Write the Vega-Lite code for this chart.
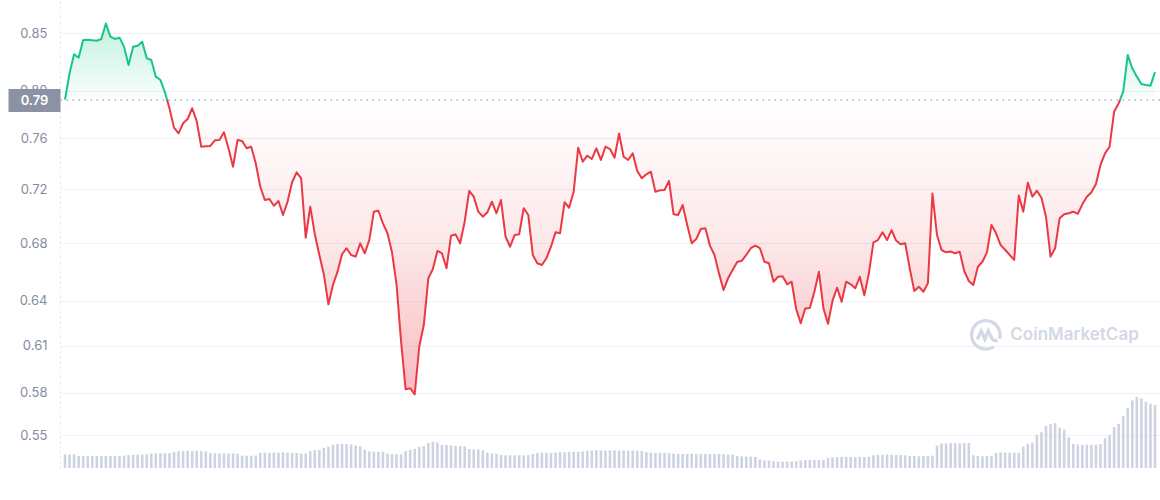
{
 "$schema": "https://vega.github.io/schema/vega-lite/v6.json",
 "width": 1100,
 "height": 468,
 "autosize": {"type": "none"},
 "padding": {"left": 60, "top": 0, "right": 0, "bottom": 32},
 "background": "#ffffff",
 "config": {"view": {"stroke": null}, "font": "Inter"},
 "data": {"values": [
{"t":"2022-02-14T21:00","p":0.7910,"v":1.05},
{"t":"2022-02-15T00:00","p":0.8140,"v":1.05},{"t":"2022-02-15T03:00","p":0.8309,"v":1.04},{"t":"2022-02-15T06:00","p":0.8278,"v":0.93},{"t":"2022-02-15T09:00","p":0.8439,"v":0.92},{"t":"2022-02-15T12:00","p":0.8441,"v":0.92},{"t":"2022-02-15T15:00","p":0.8436,"v":0.92},{"t":"2022-02-15T18:00","p":0.8432,"v":0.92},{"t":"2022-02-15T21:00","p":0.8448,"v":0.92},
{"t":"2022-02-16T00:00","p":0.8590,"v":0.93},{"t":"2022-02-16T03:00","p":0.8469,"v":0.92},{"t":"2022-02-16T06:00","p":0.8448,"v":0.92},{"t":"2022-02-16T09:00","p":0.8460,"v":0.93},{"t":"2022-02-16T12:00","p":0.8378,"v":0.95},{"t":"2022-02-16T15:00","p":0.8213,"v":1.00},{"t":"2022-02-16T18:00","p":0.8378,"v":1.02},{"t":"2022-02-16T21:00","p":0.8387,"v":1.03},
{"t":"2022-02-17T00:00","p":0.8423,"v":1.04},{"t":"2022-02-17T03:00","p":0.8273,"v":1.06},{"t":"2022-02-17T06:00","p":0.8258,"v":1.10},{"t":"2022-02-17T09:00","p":0.8110,"v":1.13},{"t":"2022-02-17T12:00","p":0.8081,"v":1.14},{"t":"2022-02-17T15:00","p":0.7974,"v":1.13},{"t":"2022-02-17T18:00","p":0.7837,"v":1.14},{"t":"2022-02-17T21:00","p":0.7674,"v":1.22},
{"t":"2022-02-18T00:00","p":0.7627,"v":1.28},{"t":"2022-02-18T03:00","p":0.7710,"v":1.30},{"t":"2022-02-18T06:00","p":0.7746,"v":1.32},{"t":"2022-02-18T09:00","p":0.7837,"v":1.31},{"t":"2022-02-18T12:00","p":0.7729,"v":1.33},{"t":"2022-02-18T15:00","p":0.7517,"v":1.30},{"t":"2022-02-18T18:00","p":0.7520,"v":1.28},{"t":"2022-02-18T21:00","p":0.7523,"v":1.15},
{"t":"2022-02-19T00:00","p":0.7569,"v":1.13},{"t":"2022-02-19T03:00","p":0.7572,"v":1.13},{"t":"2022-02-19T06:00","p":0.7635,"v":1.14},{"t":"2022-02-19T09:00","p":0.7504,"v":1.12},{"t":"2022-02-19T12:00","p":0.7356,"v":1.13},{"t":"2022-02-19T15:00","p":0.7572,"v":1.10},{"t":"2022-02-19T18:00","p":0.7564,"v":0.96},{"t":"2022-02-19T21:00","p":0.7504,"v":0.95},
{"t":"2022-02-20T00:00","p":0.7517,"v":0.94},{"t":"2022-02-20T03:00","p":0.7383,"v":0.96},{"t":"2022-02-20T06:00","p":0.7198,"v":1.16},{"t":"2022-02-20T09:00","p":0.7095,"v":1.18},{"t":"2022-02-20T12:00","p":0.7103,"v":1.17},{"t":"2022-02-20T15:00","p":0.7051,"v":1.18},{"t":"2022-02-20T18:00","p":0.7088,"v":1.17},{"t":"2022-02-20T21:00","p":0.6981,"v":1.22},
{"t":"2022-02-21T00:00","p":0.7082,"v":1.18},{"t":"2022-02-21T03:00","p":0.7233,"v":1.16},{"t":"2022-02-21T06:00","p":0.7311,"v":1.15},{"t":"2022-02-21T09:00","p":0.7264,"v":1.10},{"t":"2022-02-21T12:00","p":0.6811,"v":1.12},{"t":"2022-02-21T15:00","p":0.7044,"v":1.30},{"t":"2022-02-21T18:00","p":0.6839,"v":1.37},{"t":"2022-02-21T21:00","p":0.6685,"v":1.40},
{"t":"2022-02-22T00:00","p":0.6546,"v":1.55},{"t":"2022-02-22T03:00","p":0.6337,"v":1.64},{"t":"2022-02-22T06:00","p":0.6471,"v":1.80},{"t":"2022-02-22T09:00","p":0.6565,"v":1.85},{"t":"2022-02-22T12:00","p":0.6690,"v":1.86},{"t":"2022-02-22T15:00","p":0.6734,"v":1.84},{"t":"2022-02-22T18:00","p":0.6685,"v":1.80},{"t":"2022-02-22T21:00","p":0.6673,"v":1.72},
{"t":"2022-02-23T00:00","p":0.6770,"v":1.66},{"t":"2022-02-23T03:00","p":0.6697,"v":1.40},{"t":"2022-02-23T06:00","p":0.6794,"v":1.28},{"t":"2022-02-23T09:00","p":0.7006,"v":1.26},{"t":"2022-02-23T12:00","p":0.7013,"v":1.25},{"t":"2022-02-23T15:00","p":0.6918,"v":1.24},{"t":"2022-02-23T18:00","p":0.6844,"v":1.10},{"t":"2022-02-23T21:00","p":0.6704,"v":1.06},
{"t":"2022-02-24T00:00","p":0.6476,"v":1.05},{"t":"2022-02-24T03:00","p":0.6085,"v":1.06},{"t":"2022-02-24T06:00","p":0.5779,"v":1.30},{"t":"2022-02-24T09:00","p":0.5786,"v":1.40},{"t":"2022-02-24T12:00","p":0.5748,"v":1.46},{"t":"2022-02-24T15:00","p":0.6052,"v":1.62},{"t":"2022-02-24T18:00","p":0.6196,"v":1.70},{"t":"2022-02-24T21:00","p":0.6518,"v":1.92},
{"t":"2022-02-25T00:00","p":0.6584,"v":2.02},{"t":"2022-02-25T03:00","p":0.6714,"v":1.98},{"t":"2022-02-25T06:00","p":0.6697,"v":1.78},{"t":"2022-02-25T09:00","p":0.6589,"v":1.77},{"t":"2022-02-25T12:00","p":0.6826,"v":1.74},{"t":"2022-02-25T15:00","p":0.6836,"v":1.70},{"t":"2022-02-25T18:00","p":0.6770,"v":1.69},{"t":"2022-02-25T21:00","p":0.6930,"v":1.66},
{"t":"2022-02-26T00:00","p":0.7165,"v":1.46},{"t":"2022-02-26T03:00","p":0.7121,"v":1.44},{"t":"2022-02-26T06:00","p":0.7006,"v":1.42},{"t":"2022-02-26T09:00","p":0.6968,"v":1.36},{"t":"2022-02-26T12:00","p":0.7001,"v":1.18},{"t":"2022-02-26T15:00","p":0.7082,"v":1.13},{"t":"2022-02-26T18:00","p":0.6994,"v":1.10},{"t":"2022-02-26T21:00","p":0.7095,"v":0.99},
{"t":"2022-02-27T00:00","p":0.6819,"v":0.98},{"t":"2022-02-27T03:00","p":0.6745,"v":0.97},{"t":"2022-02-27T06:00","p":0.6831,"v":0.97},{"t":"2022-02-27T09:00","p":0.6836,"v":0.98},{"t":"2022-02-27T12:00","p":0.7032,"v":0.97},{"t":"2022-02-27T15:00","p":0.6981,"v":0.99},{"t":"2022-02-27T18:00","p":0.6685,"v":1.08},{"t":"2022-02-27T21:00","p":0.6625,"v":1.15},
{"t":"2022-02-28T00:00","p":0.6613,"v":1.18},{"t":"2022-02-28T03:00","p":0.6661,"v":1.17},{"t":"2022-02-28T06:00","p":0.6745,"v":1.16},{"t":"2022-02-28T09:00","p":0.6851,"v":1.18},{"t":"2022-02-28T12:00","p":0.6844,"v":1.22},{"t":"2022-02-28T15:00","p":0.7078,"v":1.20},{"t":"2022-02-28T18:00","p":0.7036,"v":1.24},{"t":"2022-02-28T21:00","p":0.7159,"v":1.26},
{"t":"2022-03-01T00:00","p":0.7509,"v":1.25},{"t":"2022-03-01T03:00","p":0.7396,"v":1.27},{"t":"2022-03-01T06:00","p":0.7444,"v":1.33},{"t":"2022-03-01T09:00","p":0.7418,"v":1.35},{"t":"2022-03-01T12:00","p":0.7504,"v":1.36},{"t":"2022-03-01T15:00","p":0.7410,"v":1.35},{"t":"2022-03-01T18:00","p":0.7517,"v":1.34},{"t":"2022-03-01T21:00","p":0.7498,"v":1.35},
{"t":"2022-03-02T00:00","p":0.7428,"v":1.36},{"t":"2022-03-02T03:00","p":0.7625,"v":1.34},{"t":"2022-03-02T06:00","p":0.7436,"v":1.35},{"t":"2022-03-02T09:00","p":0.7410,"v":1.33},{"t":"2022-03-02T12:00","p":0.7463,"v":1.34},{"t":"2022-03-02T15:00","p":0.7322,"v":1.32},{"t":"2022-03-02T18:00","p":0.7264,"v":1.30},{"t":"2022-03-02T21:00","p":0.7296,"v":1.22},
{"t":"2022-03-03T00:00","p":0.7316,"v":1.18},{"t":"2022-03-03T03:00","p":0.7159,"v":1.16},{"t":"2022-03-03T06:00","p":0.7170,"v":1.17},{"t":"2022-03-03T09:00","p":0.7173,"v":1.18},{"t":"2022-03-03T12:00","p":0.7243,"v":1.14},{"t":"2022-03-03T15:00","p":0.6986,"v":1.10},{"t":"2022-03-03T18:00","p":0.6981,"v":1.09},{"t":"2022-03-03T21:00","p":0.7057,"v":1.08},
{"t":"2022-03-04T00:00","p":0.6906,"v":1.08},{"t":"2022-03-04T03:00","p":0.6770,"v":1.10},{"t":"2022-03-04T06:00","p":0.6802,"v":1.09},{"t":"2022-03-04T09:00","p":0.6876,"v":1.08},{"t":"2022-03-04T12:00","p":0.6881,"v":1.07},{"t":"2022-03-04T15:00","p":0.6753,"v":1.08},{"t":"2022-03-04T18:00","p":0.6685,"v":1.09},{"t":"2022-03-04T21:00","p":0.6553,"v":1.07},
{"t":"2022-03-05T00:00","p":0.6436,"v":1.06},{"t":"2022-03-05T03:00","p":0.6518,"v":1.04},{"t":"2022-03-05T06:00","p":0.6577,"v":1.02},{"t":"2022-03-05T09:00","p":0.6634,"v":0.92},{"t":"2022-03-05T12:00","p":0.6643,"v":0.89},{"t":"2022-03-05T15:00","p":0.6685,"v":0.88},{"t":"2022-03-05T18:00","p":0.6734,"v":0.87},{"t":"2022-03-05T21:00","p":0.6753,"v":0.85},
{"t":"2022-03-06T00:00","p":0.6734,"v":0.65},{"t":"2022-03-06T03:00","p":0.6636,"v":0.58},{"t":"2022-03-06T06:00","p":0.6625,"v":0.57},{"t":"2022-03-06T09:00","p":0.6494,"v":0.52},{"t":"2022-03-06T12:00","p":0.6529,"v":0.50},{"t":"2022-03-06T15:00","p":0.6532,"v":0.48},{"t":"2022-03-06T18:00","p":0.6476,"v":0.49},{"t":"2022-03-06T21:00","p":0.6494,"v":0.50},
{"t":"2022-03-07T00:00","p":0.6304,"v":0.52},{"t":"2022-03-07T03:00","p":0.6208,"v":0.58},{"t":"2022-03-07T06:00","p":0.6309,"v":0.60},{"t":"2022-03-07T09:00","p":0.6312,"v":0.60},{"t":"2022-03-07T12:00","p":0.6424,"v":0.61},{"t":"2022-03-07T15:00","p":0.6565,"v":0.60},{"t":"2022-03-07T18:00","p":0.6309,"v":0.62},{"t":"2022-03-07T21:00","p":0.6205,"v":0.78},
{"t":"2022-03-08T00:00","p":0.6362,"v":0.82},{"t":"2022-03-08T03:00","p":0.6452,"v":0.84},{"t":"2022-03-08T06:00","p":0.6355,"v":0.85},{"t":"2022-03-08T09:00","p":0.6494,"v":0.86},{"t":"2022-03-08T12:00","p":0.6476,"v":0.85},{"t":"2022-03-08T15:00","p":0.6448,"v":0.84},{"t":"2022-03-08T18:00","p":0.6529,"v":0.86},{"t":"2022-03-08T21:00","p":0.6399,"v":0.85},
{"t":"2022-03-09T00:00","p":0.6553,"v":0.87},{"t":"2022-03-09T03:00","p":0.6777,"v":0.98},{"t":"2022-03-09T06:00","p":0.6794,"v":1.01},{"t":"2022-03-09T09:00","p":0.6851,"v":1.02},{"t":"2022-03-09T12:00","p":0.6794,"v":1.03},{"t":"2022-03-09T15:00","p":0.6868,"v":1.02},{"t":"2022-03-09T18:00","p":0.6790,"v":1.01},{"t":"2022-03-09T21:00","p":0.6763,"v":1.00},
{"t":"2022-03-10T00:00","p":0.6770,"v":0.97},{"t":"2022-03-10T03:00","p":0.6589,"v":0.92},{"t":"2022-03-10T06:00","p":0.6429,"v":0.93},{"t":"2022-03-10T09:00","p":0.6459,"v":0.90},{"t":"2022-03-10T12:00","p":0.6424,"v":0.92},{"t":"2022-03-10T15:00","p":0.6483,"v":0.93},{"t":"2022-03-10T18:00","p":0.7145,"v":0.95},{"t":"2022-03-10T21:00","p":0.6831,"v":1.72},
{"t":"2022-03-11T00:00","p":0.6721,"v":1.88},{"t":"2022-03-11T03:00","p":0.6704,"v":1.90},{"t":"2022-03-11T06:00","p":0.6710,"v":1.92},{"t":"2022-03-11T09:00","p":0.6697,"v":1.90},{"t":"2022-03-11T12:00","p":0.6709,"v":1.89},{"t":"2022-03-11T15:00","p":0.6570,"v":1.91},{"t":"2022-03-11T18:00","p":0.6499,"v":1.92},{"t":"2022-03-11T21:00","p":0.6471,"v":0.98},
{"t":"2022-03-12T00:00","p":0.6600,"v":0.93},{"t":"2022-03-12T03:00","p":0.6636,"v":0.90},{"t":"2022-03-12T06:00","p":0.6704,"v":0.92},{"t":"2022-03-12T09:00","p":0.6906,"v":0.95},{"t":"2022-03-12T12:00","p":0.6844,"v":1.15},{"t":"2022-03-12T15:00","p":0.6758,"v":1.18},{"t":"2022-03-12T18:00","p":0.6723,"v":1.19},{"t":"2022-03-12T21:00","p":0.6685,"v":1.18},
{"t":"2022-03-13T00:00","p":0.6649,"v":1.17},{"t":"2022-03-13T03:00","p":0.7130,"v":1.18},{"t":"2022-03-13T06:00","p":0.7006,"v":1.65},{"t":"2022-03-13T09:00","p":0.7230,"v":1.85},{"t":"2022-03-13T12:00","p":0.7121,"v":1.95},{"t":"2022-03-13T15:00","p":0.7167,"v":2.55},{"t":"2022-03-13T18:00","p":0.7113,"v":2.75},{"t":"2022-03-13T21:00","p":0.6968,"v":3.25},
{"t":"2022-03-14T00:00","p":0.6673,"v":3.38},{"t":"2022-03-14T03:00","p":0.6734,"v":3.45},{"t":"2022-03-14T06:00","p":0.6956,"v":3.10},{"t":"2022-03-14T09:00","p":0.6986,"v":2.95},{"t":"2022-03-14T12:00","p":0.6994,"v":2.35},{"t":"2022-03-14T15:00","p":0.7006,"v":1.85},{"t":"2022-03-14T18:00","p":0.6990,"v":1.80},{"t":"2022-03-14T21:00","p":0.7062,"v":1.78},
{"t":"2022-03-15T00:00","p":0.7121,"v":1.80},{"t":"2022-03-15T03:00","p":0.7155,"v":1.79},{"t":"2022-03-15T06:00","p":0.7219,"v":1.80},{"t":"2022-03-15T09:00","p":0.7370,"v":1.84},{"t":"2022-03-15T12:00","p":0.7463,"v":2.30},{"t":"2022-03-15T15:00","p":0.7517,"v":2.55},{"t":"2022-03-15T18:00","p":0.7808,"v":3.15},{"t":"2022-03-15T21:00","p":0.7879,"v":3.40},
{"t":"2022-03-16T00:00","p":0.7979,"v":4.00},{"t":"2022-03-16T03:00","p":0.8303,"v":4.60},{"t":"2022-03-16T06:00","p":0.8184,"v":5.20},{"t":"2022-03-16T09:00","p":0.8110,"v":5.45},{"t":"2022-03-16T12:00","p":0.8046,"v":5.35},{"t":"2022-03-16T15:00","p":0.8037,"v":5.10},{"t":"2022-03-16T18:00","p":0.8031,"v":4.95},{"t":"2022-03-16T21:00","p":0.8151,"v":4.85}
 ]},
 "layer": [
  {
   "mark": {"type": "bar", "width": 2.6, "color": "#cdd3e1", "clip": true},
   "encoding": {
    "x": {"field": "t", "type": "temporal", "scale": {"domain": [{"year": 2022, "month": "feb", "date": 14, "hours": 21}, {"year": 2022, "month": "mar", "date": 16, "hours": 21}]}, "axis": null},
    "y": {"field": "v", "type": "quantitative", "scale": {"domain": [0, 36]}, "axis": null}
   }
  },
  {
   "resolve": {"axis": {"y": "independent"}},
   "layer": [
    {
     "mark": {"type": "area", "clip": true, "fill": {"gradient": "linear", "x1": 0, "y1": 0, "x2": 0, "y2": 1, "stops": [
       {"offset": 0, "color": "rgba(22,199,132,0.26)"},
       {"offset": 0.2062, "color": "rgba(22,199,132,0.02)"},
       {"offset": 0.2062, "color": "rgba(234,57,67,0.0)"},
       {"offset": 0.6, "color": "rgba(234,57,67,0.12)"},
       {"offset": 1, "color": "rgba(234,57,67,0.34)"}]}},
     "encoding": {
      "x": {"field": "t", "type": "temporal", "scale": {"domain": [{"year": 2022, "month": "feb", "date": 14, "hours": 21}, {"year": 2022, "month": "mar", "date": 16, "hours": 21}]},
       "axis": {"title": null, "values": [
         {"year": 2022, "month": "feb", "date": 18}, {"year": 2022, "month": "feb", "date": 21}, {"year": 2022, "month": "feb", "date": 24},
         {"year": 2022, "month": "mar", "date": 1}, {"year": 2022, "month": "mar", "date": 4}, {"year": 2022, "month": "mar", "date": 7},
         {"year": 2022, "month": "mar", "date": 10}, {"year": 2022, "month": "mar", "date": 13}, {"year": 2022, "month": "mar", "date": 16}],
        "labelExpr": "date(datum.value) == 1 ? 'Mar' : '' + date(datum.value)",
        "labelFontWeight": {"condition": {"test": "date(datum.value) == 1", "value": 700}, "value": 400},
        "grid": false, "domain": false, "ticks": true, "tickSize": 4, "tickColor": "#c3c9d4",
        "labelColor": "#858ca2", "labelFontSize": 13, "labelPadding": 9, "labelFont": "Inter", "labelOverlap": false, "labelFlush": false}},
      "y": {"field": "p", "type": "quantitative", "scale": {"type": "log", "domain": [0.53069, 0.88124], "nice": false, "zero": false},
       "axis": {"title": null, "orient": "left", "values": [0.85, 0.7985, 0.7586, 0.718, 0.677, 0.6362, 0.6059, 0.5758, 0.55], "format": ".2f",
        "grid": true, "gridColor": "#eef1f5", "gridWidth": 1, "ticks": false, "domain": true, "domainColor": "#dfe3ea", "domainDash": [2, 3],
        "labelColor": "#858ca2", "labelFontSize": 13, "labelPadding": 13, "labelFont": "Inter", "labelOverlap": false, "labelFlush": false}},
      "y2": {"datum": 0.7907}
     }
    },
    {
     "data": {"values": [{"b": 0.7907}]},
     "mark": {"type": "rule", "strokeDash": [1.5, 4.5], "color": "#9aa1b1", "strokeWidth": 1.3},
     "encoding": {
      "y": {"field": "b", "type": "quantitative", "scale": {"type": "log", "domain": [0.53069, 0.88124], "nice": false, "zero": false},
       "axis": {"title": null, "orient": "left", "values": [0.7907], "format": ".2f", "grid": false, "domain": false,
        "ticks": true, "tickSize": 52, "tickWidth": 23, "tickColor": "#8b92a4",
        "labelColor": "#ffffff", "labelFontSize": 13, "labelFontWeight": 600, "labelAlign": "center", "labelPadding": -26,
        "labelFont": "Inter", "labelFlush": false, "labelOverlap": false}}
     }
    },
    {
     "mark": {"type": "line", "clip": true, "strokeWidth": 2, "strokeJoin": "round", "stroke": {"gradient": "linear", "x1": 0, "y1": 0, "x2": 0, "y2": 1, "stops": [
       {"offset": 0, "color": "#16c784"},
       {"offset": 0.2062, "color": "#16c784"},
       {"offset": 0.2062, "color": "#ea3943"},
       {"offset": 1, "color": "#ea3943"}]}},
     "encoding": {
      "x": {"field": "t", "type": "temporal", "scale": {"domain": [{"year": 2022, "month": "feb", "date": 14, "hours": 21}, {"year": 2022, "month": "mar", "date": 16, "hours": 21}]}, "axis": null},
      "y": {"field": "p", "type": "quantitative", "scale": {"type": "log", "domain": [0.53069, 0.88124], "nice": false, "zero": false}, "axis": null}
     }
    },
    {
     "data": {"values": [{"label": "CoinMarketCap", "t": "2022-03-12T21:26", "p": 0.61297}]},
     "mark": {"type": "text", "align": "left", "baseline": "middle", "fontSize": 17, "fontWeight": 600, "font": "Inter", "color": "#d3d9e4"},
     "encoding": {
      "x": {"field": "t", "type": "temporal", "scale": {"domain": [{"year": 2022, "month": "feb", "date": 14, "hours": 21}, {"year": 2022, "month": "mar", "date": 16, "hours": 21}]}, "axis": null},
      "y": {"field": "p", "type": "quantitative", "scale": {"type": "log", "domain": [0.53069, 0.88124], "nice": false, "zero": false}, "axis": null},
      "text": {"field": "label"}
     }
    },
    {
     "data": {"values": [{"t": "2022-03-12T05:04", "p": 0.61297}]},
     "mark": {"type": "point", "filled": false, "size": 906, "strokeWidth": 3.2, "color": "#d3d9e4", "opacity": 1,
      "shape": "M0.93,0.25 A0.95,0.95 0 1 0 0.55,0.78 M-0.55,0.3 L-0.28,-0.28 L-0.05,0.28 L0.18,-0.28 L0.38,0.15 Q0.5,0.45 0.8,0.35"},
     "encoding": {
      "x": {"field": "t", "type": "temporal", "scale": {"domain": [{"year": 2022, "month": "feb", "date": 14, "hours": 21}, {"year": 2022, "month": "mar", "date": 16, "hours": 21}]}, "axis": null},
      "y": {"field": "p", "type": "quantitative", "scale": {"type": "log", "domain": [0.53069, 0.88124], "nice": false, "zero": false}, "axis": null}
     }
    }
   ]
  }
 ],
 "resolve": {"scale": {"y": "independent"}, "axis": {"y": "independent"}}
}
